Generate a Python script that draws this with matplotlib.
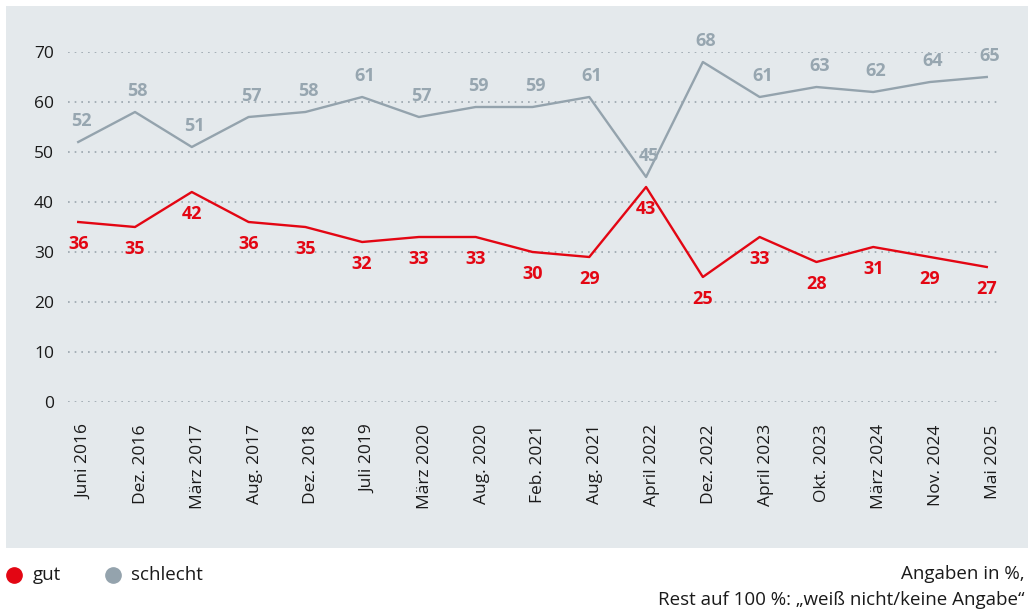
import matplotlib
matplotlib.use("Agg")
import matplotlib.pyplot as plt
import matplotlib.transforms as mtransforms
from matplotlib.patches import Rectangle
from matplotlib.lines import Line2D

# Umfragewerte
labels = ["Juni 2016", "Dez. 2016", "März 2017", "Aug. 2017", "Dez. 2018", "Juli 2019",
          "März 2020", "Aug. 2020", "Feb. 2021", "Aug. 2021", "April 2022", "Dez. 2022",
          "April 2023", "Okt. 2023", "März 2024", "Nov. 2024", "Mai 2025"]
gut = [36, 35, 42, 36, 35, 32, 33, 33, 30, 29, 43, 25, 33, 28, 31, 29, 27]
schlecht = [52, 58, 51, 57, 58, 61, 57, 59, 59, 61, 45, 68, 61, 63, 62, 64, 65]

RED = "#e30613"
GRAY = "#94a3ad"
GRAY_TXT = "#97a6b0"
BG = "#e4e9ec"
TXT = "#1a1a1a"

plt.rcParams['font.family'] = ['Open Sans', 'DejaVu Sans']

W, H = 1028, 611
fig = plt.figure(figsize=(W / 100, H / 100), dpi=100)

# grauer Hintergrund
fig.add_artist(Rectangle((6 / W, (H - 548) / H), 1 - 6 / W, (548 - 6) / H,
                         transform=fig.transFigure, facecolor=BG, edgecolor='none', zorder=-10))

ax = fig.add_axes([68 / W, (H - 402) / H, 929 / W, 350 / H])
ax.set_facecolor('none')
ax.set_zorder(1)
x = list(range(len(labels)))

ax.plot(x, schlecht, color=GRAY, lw=1.7, clip_on=False, zorder=3)
ax.plot(x, gut, color=RED, lw=1.7, clip_on=False, zorder=4)

for xi, v in zip(x, schlecht):
    ax.annotate(str(v), (xi, v), xytext=(2, 15), textcoords='offset points', ha='center', va='center',
                color=GRAY_TXT, fontsize=13, fontweight='bold', zorder=5)
for xi, v in zip(x, gut):
    ax.annotate(str(v), (xi, v), xytext=(0, -16), textcoords='offset points', ha='center', va='center',
                color=RED, fontsize=13, fontweight='bold', zorder=5)

ax.set_xlim(-0.18, 16.18)
ax.set_ylim(0, 70)
ax.set_yticks(range(0, 71, 10))
ax.set_xticks(x)
ax.set_xticklabels(labels, rotation=90, va='top', ha='center')
ax.tick_params(axis='both', length=0, labelsize=12.5, colors=TXT)
ax.tick_params(axis='y', pad=10)
ax.tick_params(axis='x', pad=16)
# Beschriftungen leicht nach rechts schieben
shift = mtransforms.ScaledTranslation(6 / 100, 0, fig.dpi_scale_trans)
for lbl in ax.get_xticklabels():
    lbl.set_transform(lbl.get_transform() + shift)
for s in ax.spines.values():
    s.set_visible(False)
ax.grid(axis='y', color='#9aa5ad', linestyle=(0, (1, 3)), lw=1.2, zorder=1)
ax.set_axisbelow(True)

# Legende
fig.add_artist(Line2D([14 / W], [(H - 575) / H], marker='o', markersize=11, color=RED,
                      linestyle='none', transform=fig.transFigure))
fig.text(33 / W, (H - 575) / H, "gut", fontsize=13.5, va='center', color=TXT)
fig.add_artist(Line2D([113 / W], [(H - 575) / H], marker='o', markersize=11, color=GRAY,
                      linestyle='none', transform=fig.transFigure))
fig.text(131 / W, (H - 575) / H, "schlecht", fontsize=13.5, va='center', color=TXT)

fig.text(1025 / W, (H - 574) / H, "Angaben in %,", fontsize=13.5, ha='right', va='center', color=TXT)
fig.text(1025 / W, (H - 600) / H, "Rest auf 100 %: \u201eweiß nicht/keine Angabe\u201c", fontsize=13.5,
         ha='right', va='center', color=TXT)

fig.savefig("out.png", dpi=100)
